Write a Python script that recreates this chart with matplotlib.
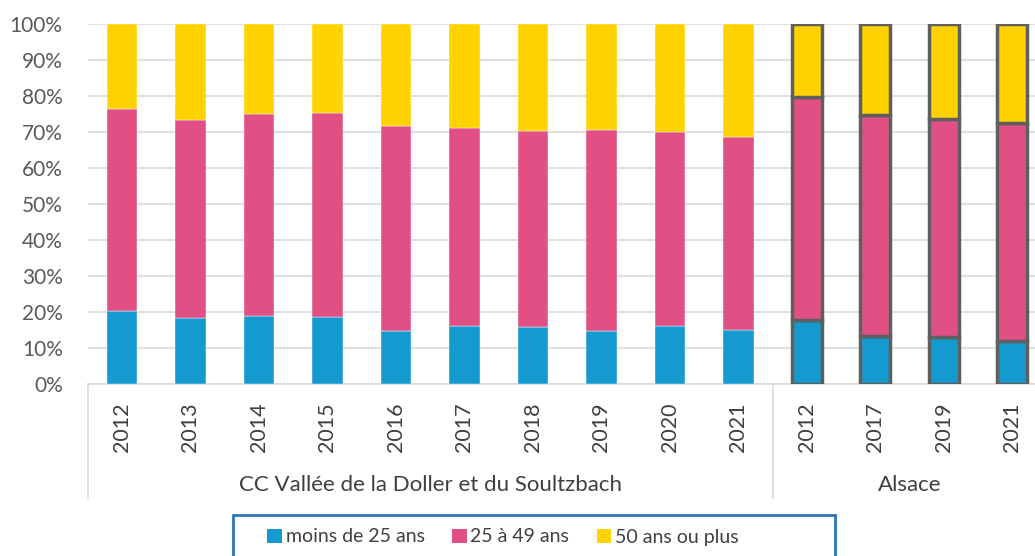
import matplotlib
matplotlib.use("Agg")
import matplotlib.pyplot as plt
from matplotlib.patches import Rectangle, Patch
import numpy as np

plt.rcParams['font.family'] = ['Lato', 'DejaVu Sans']

years = ["2012", "2013", "2014", "2015", "2016", "2017", "2018", "2019", "2020", "2021",
         "2012", "2017", "2019", "2021"]
groups = ["CC Vallée de la Doller et du Soultzbach", "Alsace"]
group_sizes = [10, 4]
series_names = ["moins de 25 ans", "25 à 49 ans", "50 ans ou plus"]
moins25 = [20.4, 18.2, 19.0, 18.6, 14.6, 16.1, 15.7, 14.6, 16.1, 15.0,
           17.8, 13.3, 13.0, 11.9]
de25a49 = [56.0, 55.2, 55.9, 56.6, 57.0, 55.1, 54.5, 56.0, 54.0, 53.6,
           62.0, 61.4, 60.6, 60.7]
plus50 = [100 - a - b for a, b in zip(moins25, de25a49)]
colors = ["#149ACF", "#E05085", "#FFD200"]

W, H = 1035, 556
fig = plt.figure(figsize=(W / 100, H / 100), dpi=100)
ax = fig.add_axes([87.75 / W, (H - 384) / H, 958.9 / W, 360 / H])

x = np.arange(len(years))
bottom = np.zeros(len(years))
is_alsace = np.array([False] * group_sizes[0] + [True] * group_sizes[1])
for vals, col, name in zip([moins25, de25a49, plus50], colors, series_names):
    vals = np.array(vals)
    ax.bar(x[~is_alsace], vals[~is_alsace], bottom=bottom[~is_alsace], width=0.44,
           color=col, edgecolor='white', linewidth=0.3, zorder=3)
    ax.bar(x[is_alsace], vals[is_alsace], bottom=bottom[is_alsace], width=0.44,
           color=col, edgecolor='#5F5F5F', linewidth=2.5, zorder=3)
    bottom += vals

ax.set_xlim(-0.5, len(years) - 0.5)
ax.set_ylim(0, 100)
ax.set_yticks(np.arange(0, 101, 10))
ax.set_yticklabels([f"{v}%" for v in range(0, 101, 10)], fontsize=15, color='#595959')
ax.tick_params(axis='y', length=0, pad=18)
ax.tick_params(axis='x', length=0, labelbottom=False)
ax.grid(axis='y', color='#D9D9D9', linewidth=1.2, zorder=0)
for s in ['top', 'right', 'left']:
    ax.spines[s].set_visible(False)
ax.spines['bottom'].set_color('#D9D9D9')
ax.spines['bottom'].set_linewidth(1.2)

tr = ax.get_xaxis_transform()
for xi, yr in zip(x, years):
    ax.text(xi, -0.05, yr, rotation=90, ha='center', va='top', fontsize=15.5,
            color='#404040', transform=tr, clip_on=False)

start = 0
bounds = [-0.5]
for g, n in zip(groups, group_sizes):
    center = start + (n - 1) / 2
    ax.text(center, -0.28, g, ha='center', va='center', fontsize=16,
            color='#404040', transform=tr, clip_on=False)
    start += n
    bounds.append(start - 0.5)
for b in bounds:
    ax.plot([b, b], [0, -0.317], color='#D9D9D9', linewidth=1.2, transform=tr,
            clip_on=False)

# legend box
fig.patches.append(Rectangle((233 / W, (H - 570) / H), (835 - 233) / W, 55 / H,
                             transform=fig.transFigure, fill=False,
                             edgecolor='#2E75B6', linewidth=2))
handles = [Patch(facecolor=c, edgecolor='none') for c in colors]
fig.legend(handles, series_names, loc='center', bbox_to_anchor=(503 / W, (H - 537) / H),
           ncol=3, frameon=False, fontsize=14, handlelength=0.75, handleheight=0.75,
           handletextpad=0.2, columnspacing=1.4, labelcolor='#404040')

fig.savefig("out.png", dpi=100)
